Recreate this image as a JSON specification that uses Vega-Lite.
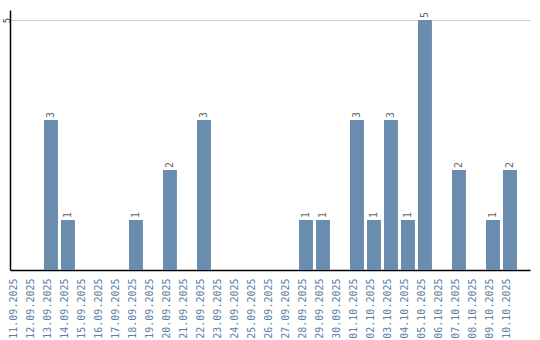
{
  "$schema": "https://vega.github.io/schema/vega-lite/v6.json",
  "width": 520,
  "height": 260,
  "autosize": {"type": "none"},
  "padding": {"left": 10, "top": 10, "right": 10, "bottom": 70},
  "background": "white",
  "config": {"view": {"stroke": null}, "font": "DejaVu Sans Mono"},
  "data": {"values": [
    {"date": "11.09.2025", "count": 0},
    {"date": "12.09.2025", "count": 0},
    {"date": "13.09.2025", "count": 3},
    {"date": "14.09.2025", "count": 1},
    {"date": "15.09.2025", "count": 0},
    {"date": "16.09.2025", "count": 0},
    {"date": "17.09.2025", "count": 0},
    {"date": "18.09.2025", "count": 1},
    {"date": "19.09.2025", "count": 0},
    {"date": "20.09.2025", "count": 2},
    {"date": "21.09.2025", "count": 0},
    {"date": "22.09.2025", "count": 3},
    {"date": "23.09.2025", "count": 0},
    {"date": "24.09.2025", "count": 0},
    {"date": "25.09.2025", "count": 0},
    {"date": "26.09.2025", "count": 0},
    {"date": "27.09.2025", "count": 0},
    {"date": "28.09.2025", "count": 1},
    {"date": "29.09.2025", "count": 1},
    {"date": "30.09.2025", "count": 0},
    {"date": "01.10.2025", "count": 3},
    {"date": "02.10.2025", "count": 1},
    {"date": "03.10.2025", "count": 3},
    {"date": "04.10.2025", "count": 1},
    {"date": "05.10.2025", "count": 5},
    {"date": "06.10.2025", "count": 0},
    {"date": "07.10.2025", "count": 2},
    {"date": "08.10.2025", "count": 0},
    {"date": "09.10.2025", "count": 1},
    {"date": "10.10.2025", "count": 2}
  ]},
  "encoding": {
    "x": {
      "field": "date", "type": "ordinal", "sort": null,
      "scale": {"paddingInner": 0.18, "paddingOuter": 0.384, "align": 0},
      "axis": {
        "title": null, "labelAngle": -90, "labelAlign": "right", "labelBaseline": "middle",
        "labelColor": "#5d7ea5", "labelFontSize": 10, "labelPadding": 8,
        "ticks": false, "domainColor": "#000000", "domainWidth": 1.5, "labelOverlap": false, "labelOffset": -3
      }
    },
    "y": {
      "field": "count", "type": "quantitative",
      "scale": {"domain": [0, 5.2], "nice": false},
      "axis": {
        "title": null, "values": [5], "labelAngle": -90, "labelAlign": "center", "labelBaseline": "middle",
        "labelColor": "#333333", "labelFontSize": 9, "ticks": false, "labelPadding": 4,
        "domainColor": "#000000", "domainWidth": 1.5, "gridColor": "#cccccc", "grid": true
      }
    }
  },
  "layer": [
    {"mark": {"type": "bar", "color": "#6a8caf"}},
    {
      "transform": [{"filter": "datum.count > 0"}],
      "mark": {"type": "text", "angle": 270, "align": "left", "baseline": "middle", "dx": 2, "fontSize": 10, "color": "#666666"},
      "encoding": {"text": {"field": "count", "type": "quantitative"}}
    }
  ]
}
